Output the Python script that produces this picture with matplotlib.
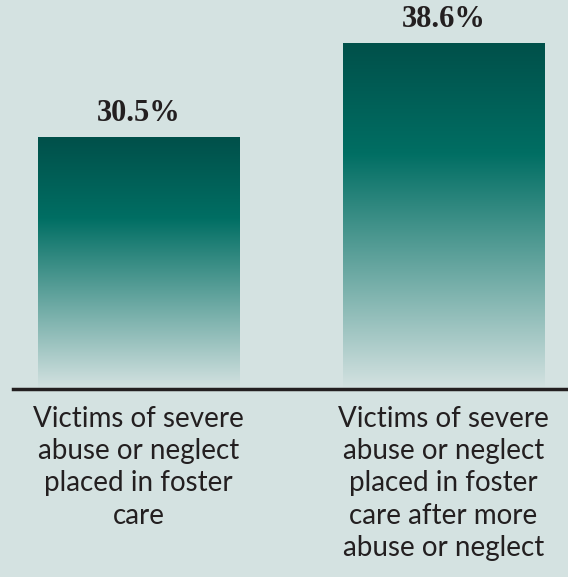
import numpy as np
import matplotlib.pyplot as plt
from matplotlib.colors import LinearSegmentedColormap

categories = ["Victims of severe\nabuse or neglect\nplaced in foster\ncare",
              "Victims of severe\nabuse or neglect\nplaced in foster\ncare after more\nabuse or neglect"]
values = [30.5, 38.6]
labels = ["30.5%", "38.6%"]

bg = "#d4e2e1"
cmap = LinearSegmentedColormap.from_list(
    "bar", [(0.0, bg), (0.68, "#006e63"), (1.0, "#00504a")])

fig = plt.figure(figsize=(5.68, 5.77), dpi=100, facecolor=bg)
ax = fig.add_axes([13/568, 1 - 389/577, 1 - 13/568, 389/577])
ax.set_facecolor(bg)

ymin, ymax = 8.8, 42.3
x = np.arange(len(values))
bars = ax.bar(x, values, width=0.659, color="none", edgecolor="none")
grad = np.linspace(0, 1, 256).reshape(-1, 1)
for b, lab in zip(bars, labels):
    x0, w, h = b.get_x(), b.get_width(), b.get_height()
    im = ax.imshow(grad, cmap=cmap, origin="lower", aspect="auto",
                   extent=[x0, x0 + w, ymin, h], zorder=1)
    im.set_clip_path(b)
    ax.text(x0 + w / 2, h + 0.75, lab, ha="center", va="bottom",
            fontsize=22, fontweight="bold", family="Liberation Serif",
            color="#231f20")

ax.set_xlim(-0.4115, 1.408)
ax.set_ylim(ymin, ymax)
ax.set_yticks([])
ax.set_xticks([])
for s in ["top", "left", "right"]:
    ax.spines[s].set_visible(False)
ax.spines["bottom"].set_linewidth(2.5)
ax.spines["bottom"].set_color("#231f20")

for xi, cat in zip(x, categories):
    ax.annotate(cat, (xi, ymin), xytext=(0, -12), textcoords="offset points",
                ha="center", va="top", fontsize=20, family="Lato",
                color="#231f20", linespacing=1.3, annotation_clip=False)

fig.savefig("out.png", dpi=100, facecolor=bg)
